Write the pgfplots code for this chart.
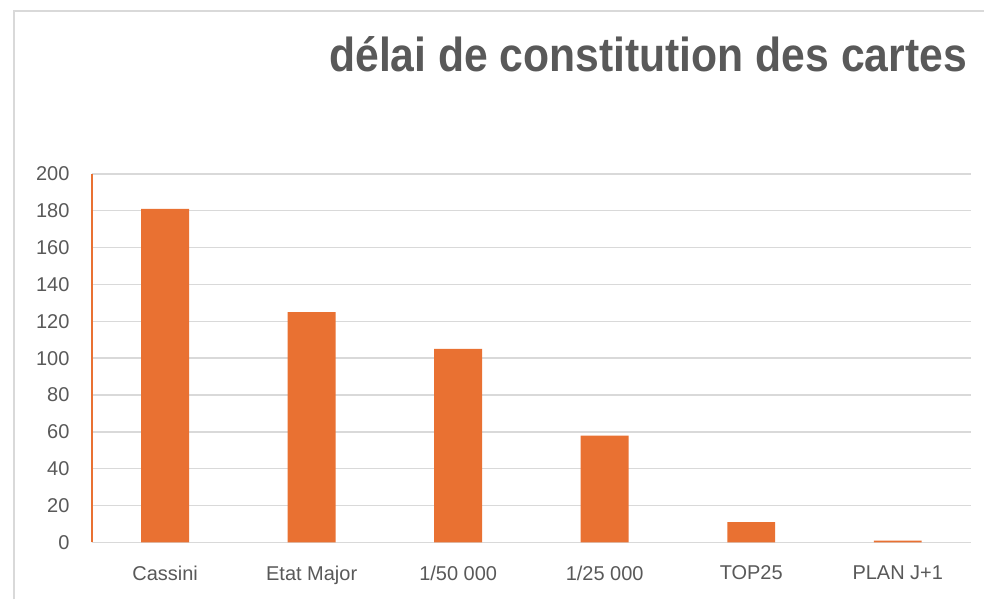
\documentclass[border=0pt]{standalone}
\usepackage{pgfplots}
\pgfplotsset{compat=1.18}
\usepackage{fontspec}
\setmainfont{Liberation Sans}
\definecolor{barorange}{HTML}{E97132}
\definecolor{txtgray}{HTML}{595959}
\definecolor{gridgray}{HTML}{D9D9D9}
\begin{document}
\begin{tikzpicture}
\fill[white] (0,0) rectangle (985bp,600bp);
\draw[gridgray, line width=2bp] (14bp,0) -- (14bp,589bp) -- (985bp,589bp);
\node[anchor=south east, inner sep=0pt, text=txtgray] at (968bp,528bp)
  {\resizebox{638bp}{35bp}{\bfseries délai de constitution des cartes}};
\begin{axis}[
  at={(92bp,57bp)}, anchor=south west,
  scale only axis, width=880bp, height=369bp,
  xmin=-0.5, xmax=5.5, ymin=0, ymax=200,
  ytick distance=20,
  xtick=data,
  xticklabels={Cassini, Etat Major, 1/50 000, 1/25 000, TOP25, PLAN J+1},
  axis x line=bottom, axis y line=left,
  axis line style={-},
  x axis line style={draw=gridgray, line width=1.5bp},
  y axis line style={draw=barorange, line width=1.5bp},
  ymajorgrids, grid style={gridgray, line width=1.5bp},
  major tick length=0pt,
  tick label style={font=\fontsize{20bp}{22bp}\selectfont, text=txtgray},
  /pgf/number format/assume math mode=true,
  yticklabel style={xshift=-19bp},
  xticklabel style={yshift=-20bp},
  ybar, bar width=48bp,
]
\addplot[fill=barorange, draw=none] coordinates {(0,181) (1,125) (2,105) (3,58) (4,11) (5,1)};
\end{axis}
\end{tikzpicture}
\end{document}
